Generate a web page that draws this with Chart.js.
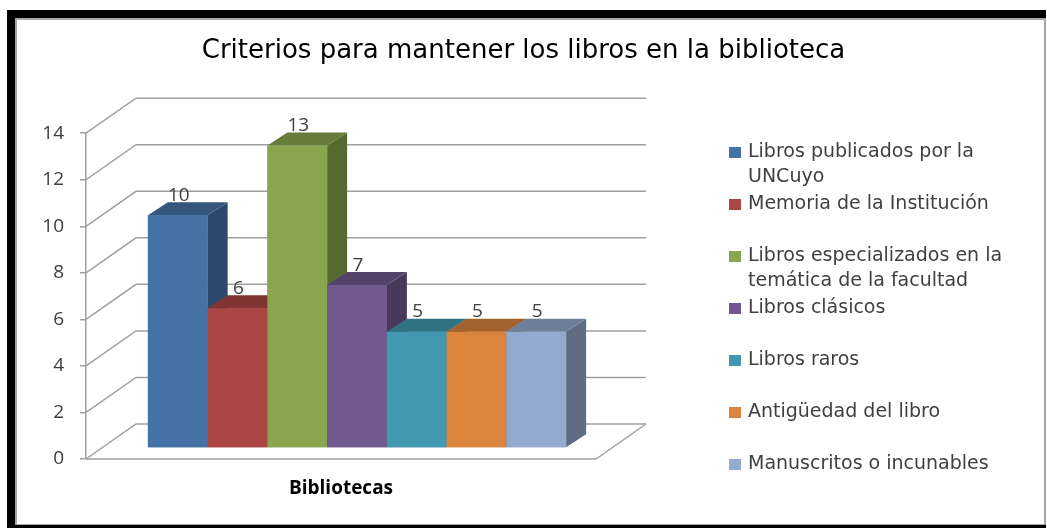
<!DOCTYPE html>
<html>
<head>
<meta charset="utf-8">
<script src="https://cdn.jsdelivr.net/npm/chart.js@4/dist/chart.umd.min.js"></script>
<style>
  html, body { margin: 0; padding: 0; background: #fff; }
  #wrap { position: relative; width: 1047px; height: 528px; overflow: hidden; }
  #chart { position: absolute; left: 0; top: 0; }
  .frame {
    position: absolute; left: 7px; top: 10px; width: 1031px; height: 507px;
    border-left: 8px solid #000; border-top: 8px solid #000; border-bottom: 3px solid #000;
    pointer-events: none;
  }
  .frame-in {
    position: absolute; left: 0; top: 0; right: 0; bottom: 0;
    border-left: 2px solid #a6a6a6; border-top: 2px solid #a6a6a6;
    border-right: 2px solid #a6a6a6; border-bottom: 1px solid #a6a6a6;
  }
</style>
</head>
<body>
<div id="wrap">
  <canvas id="chart" width="1047" height="528"></canvas>
  <div class="frame"><div class="frame-in"></div></div>
</div>
<script>
const chartTitle = 'Criterios para mantener los libros en la biblioteca';
const categories = ['Bibliotecas'];
const seriesNames = [
  'Libros publicados por la UNCuyo',
  'Memoria de la Institución',
  'Libros especializados en la temática de la facultad',
  'Libros clásicos',
  'Libros raros',
  'Antigüedad del libro',
  'Manuscritos o incunables'
];
const seriesValues = [10, 6, 13, 7, 5, 5, 5];
const seriesColors = ['#4572A7', '#AA4643', '#89A54E', '#71588F', '#4198AF', '#DB843D', '#93A9CF'];
const yMin = 0, yMax = 14, yStep = 2;

// 3d look: bars sit a bit behind the front plane, back wall further back
const SHIFT_X = 16, SHIFT_Y = -11;
const DEPTH_X = 20, DEPTH_Y = -13;
const WALL_X = 50, WALL_Y = -35;
const GRID = '#a0a0a0';

function shade(hex, f) {
  const n = parseInt(hex.slice(1), 16);
  const r = Math.round(((n >> 16) & 255) * f);
  const g = Math.round(((n >> 8) & 255) * f);
  const b = Math.round((n & 255) * f);
  return `rgb(${r},${g},${b})`;
}

const threeD = {
  id: 'threeD',
  beforeDatasetsDraw(chart) {
    const { ctx, chartArea: a, scales: { y } } = chart;
    ctx.save();
    ctx.strokeStyle = GRID;
    ctx.lineWidth = 1.5;
    y.ticks.forEach(t => {
      const py = y.getPixelForValue(t.value);
      ctx.beginPath();
      ctx.moveTo(a.left, py);
      ctx.lineTo(a.left + WALL_X, py + WALL_Y);
      ctx.lineTo(a.right + WALL_X, py + WALL_Y);
      ctx.stroke();
    });
    const p0 = y.getPixelForValue(0);
    ctx.beginPath();
    ctx.moveTo(a.left, p0);
    ctx.lineTo(a.right, p0);
    ctx.lineTo(a.right + WALL_X, p0 + WALL_Y);
    ctx.stroke();
    ctx.restore();

    ctx.save();
    ctx.translate(SHIFT_X, SHIFT_Y);
  },
  afterDatasetsDraw(chart) {
    const ctx = chart.ctx;
    chart.data.datasets.forEach((ds, i) => {
      const bar = chart.getDatasetMeta(i).data[0];
      const { x, y, base, width } = bar.getProps(['x', 'y', 'base', 'width'], true);
      const l = x - width / 2, r = x + width / 2;
      ctx.fillStyle = shade(ds.backgroundColor, 0.64);
      ctx.beginPath();
      ctx.moveTo(r, y);
      ctx.lineTo(r + DEPTH_X, y + DEPTH_Y);
      ctx.lineTo(r + DEPTH_X, base + DEPTH_Y);
      ctx.lineTo(r, base);
      ctx.closePath();
      ctx.fill();
      ctx.fillStyle = shade(ds.backgroundColor, 0.75);
      ctx.beginPath();
      ctx.moveTo(l, y);
      ctx.lineTo(r, y);
      ctx.lineTo(r + DEPTH_X, y + DEPTH_Y);
      ctx.lineTo(l + DEPTH_X, y + DEPTH_Y);
      ctx.closePath();
      ctx.fill();
      bar.draw(ctx);
    });
    ctx.fillStyle = '#404040';
    ctx.font = '19px "Open Sans"';
    ctx.textAlign = 'center';
    ctx.textBaseline = 'middle';
    chart.data.datasets.forEach((ds, i) => {
      const bar = chart.getDatasetMeta(i).data[0];
      ctx.fillText(String(ds.data[0]), bar.x + 1, bar.y - 20);
    });
    ctx.restore();
  }
};

function wrapText(ctx, text, maxW) {
  const words = text.split(' ');
  const lines = [];
  let cur = '';
  words.forEach(w => {
    const test = cur ? cur + ' ' + w : w;
    if (ctx.measureText(test).width > maxW && cur) {
      lines.push(cur);
      cur = w;
    } else {
      cur = test;
    }
  });
  if (cur) lines.push(cur);
  return lines;
}

const sideLegend = {
  id: 'sideLegend',
  afterDraw(chart) {
    const ctx = chart.ctx;
    ctx.save();
    ctx.font = '19px "DejaVu Sans"';
    ctx.textBaseline = 'middle';
    ctx.textAlign = 'left';
    chart.data.datasets.forEach((ds, i) => {
      const y0 = 152 + i * 52;
      ctx.fillStyle = ds.backgroundColor;
      ctx.fillRect(729, y0 - 5, 12, 11);
      ctx.fillStyle = '#404040';
      wrapText(ctx, ds.label, 275).forEach((ln, k) => {
        ctx.fillText(ln, 748, y0 + k * 25);
      });
    });
    ctx.restore();
  }
};

const datasets = seriesNames.map((name, i) => ({
  label: name,
  data: [seriesValues[i]],
  backgroundColor: seriesColors[i],
  borderWidth: 0,
  categoryPercentage: 0.82,
  barPercentage: 1
}));

new Chart(document.getElementById('chart'), {
  type: 'bar',
  data: { labels: categories, datasets },
  options: {
    responsive: false,
    animation: false,
    layout: { padding: 0 },
    plugins: {
      legend: { display: false },
      tooltip: { enabled: false },
      title: {
        display: true,
        text: chartTitle,
        color: '#000',
        font: { family: 'DejaVu Sans', size: 26, weight: 'normal', lineHeight: 1.2 },
        padding: { top: 36, bottom: 66 }
      }
    },
    scales: {
      x: {
        grid: { display: false, drawTicks: false },
        border: { display: false },
        ticks: {
          color: '#000',
          padding: 18,
          font: { family: 'Open Sans', size: 19, weight: 'bold' }
        },
        afterFit(s) { s.height = 69; }
      },
      y: {
        min: yMin,
        max: yMax,
        grid: { display: true, drawOnChartArea: false, drawTicks: true, tickLength: 6, color: GRID, lineWidth: 1.5 },
        border: { display: true, color: GRID, width: 1.5 },
        ticks: {
          stepSize: yStep,
          padding: 16,
          color: '#404040',
          font: { family: 'Open Sans', size: 19 }
        },
        afterFit(s) { s.width = 86; }
      },
      yRight: {
        position: 'right',
        display: true,
        grid: { display: false },
        border: { display: false },
        ticks: { display: false },
        afterFit(s) { s.width = 451; }
      }
    }
  },
  plugins: [threeD, sideLegend]
});
</script>
</body>
</html>
